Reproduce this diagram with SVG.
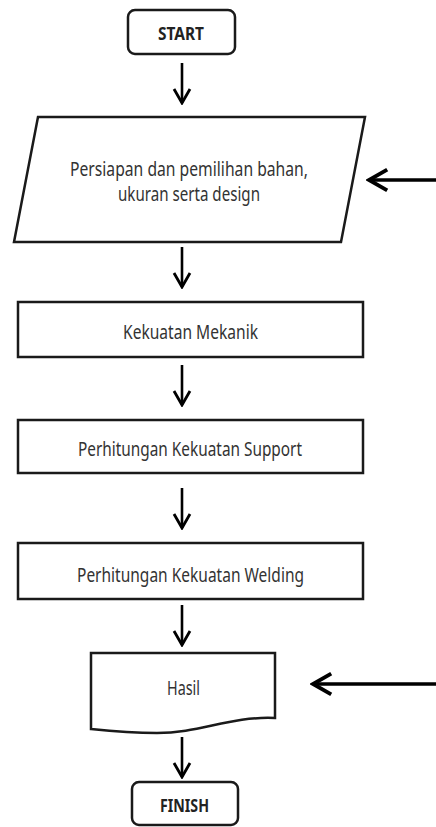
<svg xmlns="http://www.w3.org/2000/svg" width="436" height="827" viewBox="0 0 436 827">
<defs>
<style>
.shape{fill:#fff;stroke:#1a1a1a;stroke-width:2.5}
.txt{font-family:"Noto Sans","Open Sans","Liberation Sans",sans-serif;font-size:19px;fill:#333;text-anchor:middle}
.bold{font-weight:bold;font-size:17px;fill:#222}
.conn{fill:none;stroke:#000;stroke-width:2.6}
.connL{fill:none;stroke:#000;stroke-width:3.5}
</style>
<marker id="ah" viewBox="0 0 20 20" refX="18" refY="10" markerWidth="20" markerHeight="20" orient="auto" markerUnits="userSpaceOnUse">
<path d="M4,2 L18,10 L4,18" fill="none" stroke="#000" stroke-width="2.8"/>
</marker>
<marker id="ahL" viewBox="0 0 20 20" refX="18" refY="10" markerWidth="26" markerHeight="26" orient="auto" markerUnits="userSpaceOnUse">
<path d="M4,2 L18,10 L4,18" fill="none" stroke="#000" stroke-width="3"/>
</marker>
</defs>
<rect width="436" height="827" fill="#fff"/>
<g id="start">
<rect class="shape" x="128" y="10" width="107" height="44" rx="7"/>
<text class="txt bold" x="181" y="40" textLength="46" lengthAdjust="spacingAndGlyphs">START</text>
</g>
<g id="persiapan">
<polygon class="shape" points="38,117 365,117 341,242 14,242"/>
<text class="txt" x="189" y="176" textLength="238" lengthAdjust="spacingAndGlyphs">Persiapan dan  pemilihan bahan,</text>
<text class="txt" x="189" y="201" textLength="142" lengthAdjust="spacingAndGlyphs">ukuran serta design</text>
</g>
<g id="mekanik">
<rect class="shape" x="18" y="302" width="345" height="55"/>
<text class="txt" x="190.5" y="339" textLength="135" lengthAdjust="spacingAndGlyphs">Kekuatan Mekanik</text>
</g>
<g id="support">
<rect class="shape" x="18" y="420" width="345" height="53"/>
<text class="txt" x="190" y="456" textLength="224" lengthAdjust="spacingAndGlyphs">Perhitungan Kekuatan Support</text>
</g>
<g id="welding">
<rect class="shape" x="18" y="543" width="345" height="56"/>
<text class="txt" x="190.5" y="582" textLength="227" lengthAdjust="spacingAndGlyphs">Perhitungan Kekuatan Welding</text>
</g>
<g id="hasil">
<path class="shape" d="M91,653 H275 V718 C230,716 200,733 157,733 C130,733 110,731 91,729 Z"/>
<text class="txt" x="183.5" y="695" textLength="33" lengthAdjust="spacingAndGlyphs">Hasil</text>
</g>
<g id="finish">
<rect class="shape" x="132" y="782" width="106" height="43" rx="7"/>
<text class="txt bold" x="184.5" y="812" textLength="49" lengthAdjust="spacingAndGlyphs">FINISH</text>
</g>
<g id="connectors">
<line class="conn" x1="182" y1="63" x2="182" y2="103" marker-end="url(#ah)"/>
<line class="conn" x1="182" y1="247" x2="182" y2="287" marker-end="url(#ah)"/>
<line class="conn" x1="182" y1="365" x2="182" y2="405" marker-end="url(#ah)"/>
<line class="conn" x1="182" y1="488" x2="182" y2="528" marker-end="url(#ah)"/>
<line class="conn" x1="182" y1="605" x2="182" y2="645" marker-end="url(#ah)"/>
<line class="conn" x1="182" y1="737" x2="182" y2="777" marker-end="url(#ah)"/>
<line class="connL" x1="436" y1="180" x2="369" y2="180" marker-end="url(#ahL)"/>
<line class="connL" x1="436" y1="684" x2="313" y2="684" marker-end="url(#ahL)"/>
</g>
</svg>
